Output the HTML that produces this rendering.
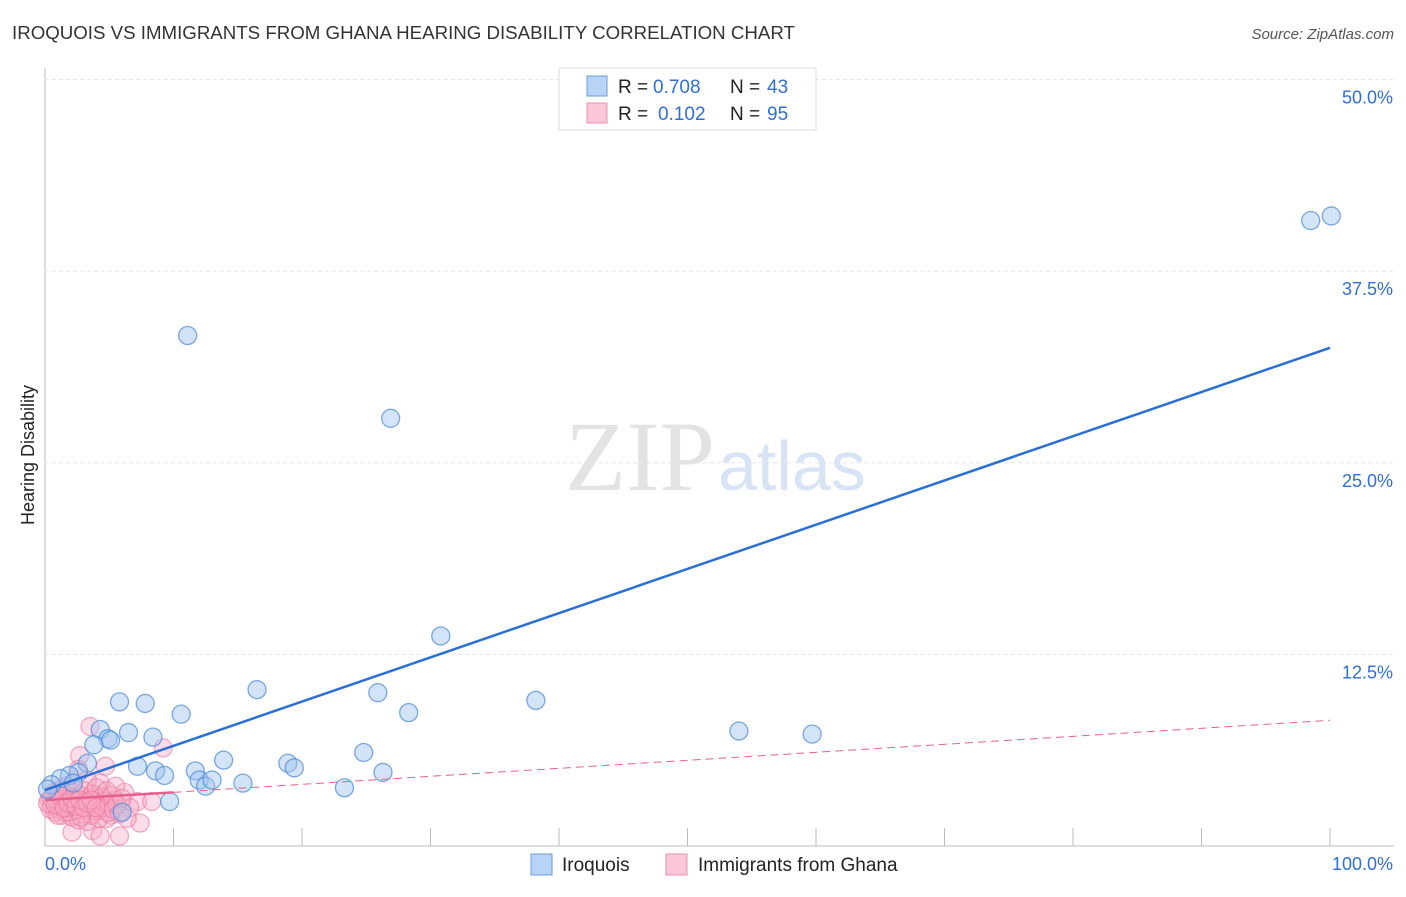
<!DOCTYPE html>
<html><head><meta charset="utf-8"><style>
body{margin:0;background:#fff;font-family:"Liberation Sans",sans-serif}
</style></head><body>
<svg id="c" width="1406" height="892" xmlns="http://www.w3.org/2000/svg">
<text x="12" y="39" font-size="18.7" fill="#333">IROQUOIS VS IMMIGRANTS FROM GHANA HEARING DISABILITY CORRELATION CHART</text>
<text x="1394" y="39" font-size="15" fill="#555" text-anchor="end" font-style="italic">Source: ZipAtlas.com</text>
<text x="715" y="490" font-size="100" fill="#e3e3e3" text-anchor="end" font-family="Liberation Serif">ZIP</text>
<text x="718" y="490" font-size="70" fill="#d6e4f5">atlas</text>
<text transform="translate(34,455) rotate(-90)" font-size="18" fill="#222" text-anchor="middle">Hearing Disability</text>
<g id="grid"></g><g id="pts"></g><g id="lines"></g>
<g>
<rect x="559" y="68" width="257" height="62" fill="#fff" stroke="#ddd"/>
<rect x="587" y="76" width="20" height="20" fill="#b8d3f5" stroke="#6a9de0"/>
<rect x="587" y="103" width="20" height="20" fill="#fbc6d6" stroke="#ee8fae"/>
<g font-size="19" fill="#222">
<text x="618" y="93">R =</text><text x="653" y="93" fill="#2f6fd6">0.708</text><text x="730" y="93">N =</text><text x="767" y="93" fill="#2f6fd6">43</text>
<text x="618" y="120">R =</text><text x="658" y="120" fill="#2f6fd6">0.102</text><text x="730" y="120">N =</text><text x="767" y="120" fill="#2f6fd6">95</text>
</g>
</g>
<g>
<rect x="531" y="854" width="21" height="21" fill="#b8d3f5" stroke="#6a9de0"/>
<text x="562" y="871" font-size="19" fill="#222">Iroquois</text>
<rect x="666" y="854" width="21" height="21" fill="#fbc6d6" stroke="#ee8fae"/>
<text x="698" y="871" font-size="19" fill="#222">Immigrants from Ghana</text>
</g>
</svg>
<script>
const yTicks=[12.5,25,37.5,50];
const yTickLabels=["12.5%","25.0%","37.5%","50.0%"];
const xTickLabels=["0.0%","100.0%"];
const iroquois=[[98.5,40.8],[100.1,41.1],[11.1,33.3],[26.9,27.9],[30.8,13.7],[38.2,9.5],[16.5,10.2],[25.9,10.0],[28.3,8.7],[54.0,7.5],[59.7,7.3],[5.8,9.4],[7.8,9.3],[10.6,8.6],[4.3,7.6],[6.5,7.4],[4.9,7.0],[5.1,6.9],[8.4,7.1],[3.8,6.6],[13.9,5.6],[24.8,6.1],[18.9,5.4],[19.4,5.1],[11.7,4.9],[8.6,4.9],[9.3,4.6],[7.2,5.2],[3.3,5.4],[2.6,4.8],[26.3,4.8],[12.0,4.3],[12.5,3.9],[13.0,4.3],[15.4,4.1],[23.3,3.8],[9.7,2.9],[6.0,2.2],[1.9,4.6],[1.2,4.4],[0.5,4.0],[0.2,3.7],[2.2,4.1]];
const ghana=[[3.5,7.8],[9.2,6.4],[2.7,5.9],[4.7,5.2],[2.6,5.0],[4.3,4.1],[6.2,3.5],[7.2,2.9],[8.3,2.9],[4.1,2.3],[5.1,2.0],[7.4,1.5],[2.1,0.9],[3.7,1.0],[5.8,0.65],[4.3,0.65],[4.8,1.8],[3.3,4.3],[3.9,3.3],[5.4,3.0],[6.6,2.5],
[0.3,3.0],[0.5,2.6],[0.6,3.3],[0.8,2.2],[0.9,2.9],[1.0,3.6],[1.1,2.4],[1.2,3.1],[1.3,2.0],[1.4,2.7],[1.5,3.4],[1.6,2.2],[1.7,2.9],[1.8,3.8],[1.9,2.5],[2.0,3.2],[2.1,1.9],[2.2,2.7],[2.3,3.5],[2.4,2.3],[2.5,3.0],[2.6,1.7],[2.7,2.6],[2.8,3.3],[2.9,2.1],[3.0,2.8],[3.1,3.6],[3.2,2.4],[3.3,1.6],[3.4,3.1],[3.5,2.6],[3.6,2.0],[3.7,3.4],[3.8,2.9],[3.9,2.3],[4.0,3.8],[4.1,2.7],[4.2,1.8],[4.4,3.2],[4.5,2.5],[4.6,2.9],[4.8,3.6],[4.9,2.2],[5.0,2.8],[5.2,3.3],[5.3,2.4],[5.5,3.9],[5.6,2.7],[5.8,2.1],[6.0,3.1],[0.4,2.4],[0.7,3.5],[1.0,2.0],[1.3,3.0],[1.6,3.9],[1.9,2.2],[2.2,3.0],[2.5,2.4],[2.8,1.9],[3.1,2.9],[0.2,2.8],[0.5,3.1],[0.8,2.7],[1.1,3.3],[1.5,2.5],[1.8,2.8],[2.1,3.1],[2.4,2.6],[2.7,3.0],[3.0,2.5],[3.3,2.8],[3.6,3.0],[4.0,2.5],[6.4,1.8]];
const blueLine=[[0,3.65],[100,32.5]];
const pinkLine=[[0,3.0],[10,3.5],[100,8.2]];
const X=v=>45+v*12.85, Y=v=>846-v*15.33;
const NS="http://www.w3.org/2000/svg";
function mk(t,a,p){const e=document.createElementNS(NS,t);for(const k in a)e.setAttribute(k,a[k]);p.appendChild(e);return e;}
const g=document.getElementById('grid');
mk('line',{x1:45,y1:68,x2:45,y2:846,stroke:'#bbb'},g);
mk('line',{x1:45,y1:846,x2:1394,y2:846,stroke:'#bbb'},g);
yTicks.forEach((t,i)=>{
 const l=mk('line',{x1:45,y1:Y(t),x2:1394,y2:Y(t),stroke:'#e6e6e6','stroke-dasharray':'4,3'},g);
 
 
 const tx=mk('text',{x:1393,y:Y(t)+24,'font-size':18,fill:'#2f6fd6','text-anchor':'end'},g);
 tx.textContent=yTickLabels[i];
 
 
});
for(let i=1;i<=10;i++){const t=mk('line',{x1:X(i*10),y1:828,x2:X(i*10),y2:846,stroke:'#bbb'},g);
 
 }
[[X(0),'start'],[1393,'end']].forEach((p,i)=>{const t=mk('text',{x:p[0],y:870,'font-size':18,fill:'#2f6fd6','text-anchor':p[1]},g);t.textContent=xTickLabels[i];
 
 });
const pg=document.getElementById('pts');
ghana.forEach(d=>{const c=mk('circle',{cx:X(d[0]),cy:Y(d[1]),r:9,fill:'rgba(248,170,195,0.4)',stroke:'rgba(236,120,160,0.6)','stroke-width':1.3},pg);
 
 });
iroquois.forEach(d=>{const c=mk('circle',{cx:X(d[0]),cy:Y(d[1]),r:9,fill:'rgba(160,195,240,0.45)',stroke:'rgba(80,140,220,0.75)','stroke-width':1.3},pg);
 
 });
const lg=document.getElementById('lines');
const bl=mk('line',{x1:X(blueLine[0][0]),y1:Y(blueLine[0][1]),x2:X(blueLine[1][0]),y2:Y(blueLine[1][1]),stroke:'#2a6fd8','stroke-width':2.5},lg);


const ps=mk('line',{x1:X(pinkLine[0][0]),y1:Y(pinkLine[0][1]),x2:X(pinkLine[1][0]),y2:Y(pinkLine[1][1]),stroke:'#e8608c','stroke-width':2.5},lg);


const pd=mk('line',{x1:X(pinkLine[1][0]),y1:Y(pinkLine[1][1]),x2:X(pinkLine[2][0]),y2:Y(pinkLine[2][1]),stroke:'#e8608c','stroke-width':1,'stroke-dasharray':'8,5'},lg);


</script>
</body></html>
